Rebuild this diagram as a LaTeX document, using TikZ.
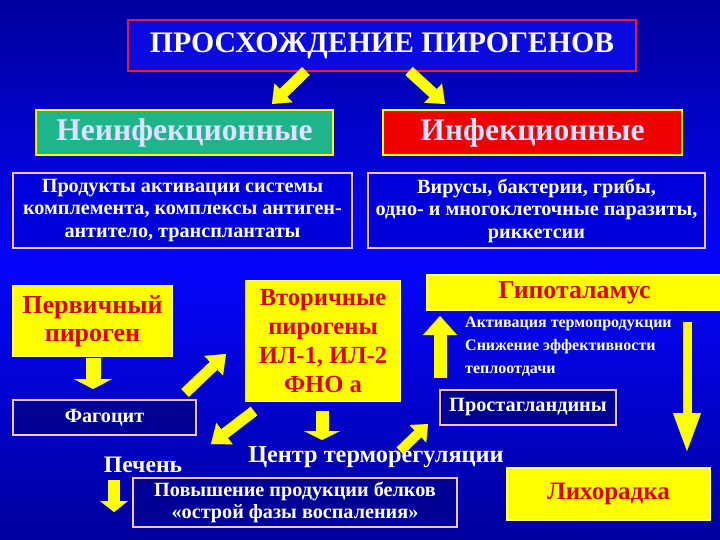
\documentclass[tikz,border=0pt]{standalone}
\usepackage{fontspec}
\setmainfont{Liberation Serif}
\usetikzlibrary{arrows.meta}
\definecolor{bgdark}{RGB}{0,0,158}
\definecolor{bgmid}{RGB}{5,5,252}
\definecolor{titlefill}{RGB}{10,10,225}
\definecolor{titleborder}{RGB}{225,30,60}
\definecolor{tealc}{RGB}{30,180,140}
\definecolor{redfill}{RGB}{240,0,0}
\definecolor{lav}{RGB}{220,225,255}
\definecolor{pinkc}{RGB}{240,195,215}
\definecolor{navyc}{RGB}{0,0,150}
\definecolor{prodfill}{RGB}{0,0,220}
\definecolor{yel}{RGB}{255,255,0}
\definecolor{redtxt}{RGB}{220,0,0}
\newcommand\myfs[2]{\fontsize{#1}{#2}\selectfont\bfseries}
\begin{document}
\begin{tikzpicture}[x=1pt,y=-1pt,
  titlebox/.style={draw=titleborder, line width=2.5pt, fill=titlefill, text=white,
    minimum width=508pt, minimum height=51pt, inner sep=0pt, font=\myfs{29.8}{31}},
  greenbox/.style={draw=yel, line width=2.5pt, fill=tealc, text=lav,
    minimum width=297pt, minimum height=45pt, inner sep=0pt, font=\myfs{31.6}{33}},
  redbox/.style={draw=yel, line width=2.5pt, fill=redfill, text=lav,
    minimum width=299pt, minimum height=45pt, inner sep=0pt, font=\myfs{31.6}{33}},
  pbox/.style={draw=pinkc, line width=2pt, fill=prodfill, text=white, align=center,
    inner sep=0pt, font=\myfs{20.2}{22.5}},
  nbox/.style={draw=pinkc, line width=2pt, fill=navyc, text=white, align=center,
    inner sep=0pt},
  ybox/.style={draw=white!55!yel, line width=1.2pt, fill=yel, text=redtxt, align=center,
    inner sep=0pt},
  txt/.style={text=white, inner sep=0pt},
  arr/.style n args={3}{draw=yel, line width=#1,
    -{Triangle[length=#3, width=#2, line width=0.01pt]}},
]
\shade[top color=bgdark, bottom color=bgdark, middle color=bgmid] (0,0) rectangle (720,540);
\useasboundingbox (0,0) rectangle (720,540);

% nodes
\node[titlebox] (title) at (382,45.5) {ПРОСХОЖДЕНИЕ ПИРОГЕНОВ};
\node[greenbox] (noninf) at (184.5,132.5) {Неинфекционные};
\node[redbox] (inf) at (532.5,132.5) {Инфекционные};
\node[pbox, minimum width=339pt, minimum height=75pt] (prod) at (182.5,210.5)
  {Продукты активации системы\\комплемента, комплексы антиген-\\антитело, трансплантаты};
\node[pbox, minimum width=337pt, minimum height=75pt] (vir) at (536.5,210.5)
  {Вирусы, бактерии, грибы,\\одно- и многоклеточные паразиты,\\риккетсии};
\node[ybox, minimum width=159pt, minimum height=71pt, font=\myfs{26}{28}] (perv) at (92.5,321)
  {Первичный\\пироген};
\node[nbox, minimum width=183pt, minimum height=35pt, font=\myfs{20.2}{22}] (fag) at (104.5,417.5)
  {Фагоцит};
\node[ybox, minimum width=155pt, minimum height=121pt, font=\myfs{24.6}{29}] (vtor) at (323,341)
  {Вторичные\\пирогены\\ИЛ-1, ИЛ-2\\ФНО а};
\node[txt, font=\myfs{23.6}{26}] (pech) at (143,465) {Печень};
\node[nbox, minimum width=324pt, minimum height=49pt, font=\myfs{20.2}{22}] (pov) at (295,502.5)
  {Повышение продукции белков\\«острой фазы воспаления»};
\node[txt, font=\myfs{24.3}{26}] (centr) at (376,457) {Центр терморегуляции};
\node[nbox, minimum width=176pt, minimum height=35pt, font=\myfs{20.3}{22}] (prost) at (528,407)
  {Простагландины};
\node[ybox, minimum width=295pt, minimum height=35pt, font=\myfs{25.8}{27}] (gipo) at (574.5,292.5)
  {Гипоталамус};
\node[txt, align=left, anchor=west, font=\myfs{16}{23}] (eff) at (465,347)
  {Активация термопродукции\\Снижение эффективности\\теплоотдачи};
\node[ybox, minimum width=203pt, minimum height=52pt, font=\myfs{25}{27}] (lih) at (608.5,494)
  {Лихорадка};

% arrow end points
\coordinate (a1s) at (306,71);  \coordinate (a1e) at (272,104);
\coordinate (a2s) at (409,71);  \coordinate (a2e) at (445,104);
\coordinate (a3s) at (93,358);  \coordinate (a3e) at (93,389);
\coordinate (a4s) at (185,393); \coordinate (a4e) at (226,354);
\coordinate (a5s) at (254,411); \coordinate (a5e) at (211,444);
\coordinate (a6s) at (322,411); \coordinate (a6e) at (322,440);
\coordinate (a7s) at (114,480); \coordinate (a7e) at (114,512);
\coordinate (a8s) at (400,451); \coordinate (a8e) at (428,424);
\coordinate (a9s) at (440,378); \coordinate (a9e) at (440,316);
\coordinate (a10s) at (687,322); \coordinate (a10e) at (687,451);

\draw[arr={11pt}{26pt}{16pt}] (a1s) -- (a1e);
\draw[arr={11pt}{26pt}{16pt}] (a2s) -- (a2e);
\draw[arr={15pt}{38pt}{10pt}] (a3s) -- (a3e);
\draw[arr={11pt}{27pt}{17pt}] (a4s) -- (a4e);
\draw[arr={11pt}{27pt}{17pt}] (a5s) -- (a5e);
\draw[arr={13pt}{36pt}{9pt}] (a6s) -- (a6e);
\draw[arr={12pt}{28pt}{11pt}] (a7s) -- (a7e);
\draw[arr={10pt}{24pt}{14pt}] (a8s) -- (a8e);
\draw[arr={13pt}{34pt}{19pt}] (a9s) -- (a9e);
\draw[arr={9pt}{28pt}{38pt}] (a10s) -- (a10e);
\end{tikzpicture}
\end{document}
